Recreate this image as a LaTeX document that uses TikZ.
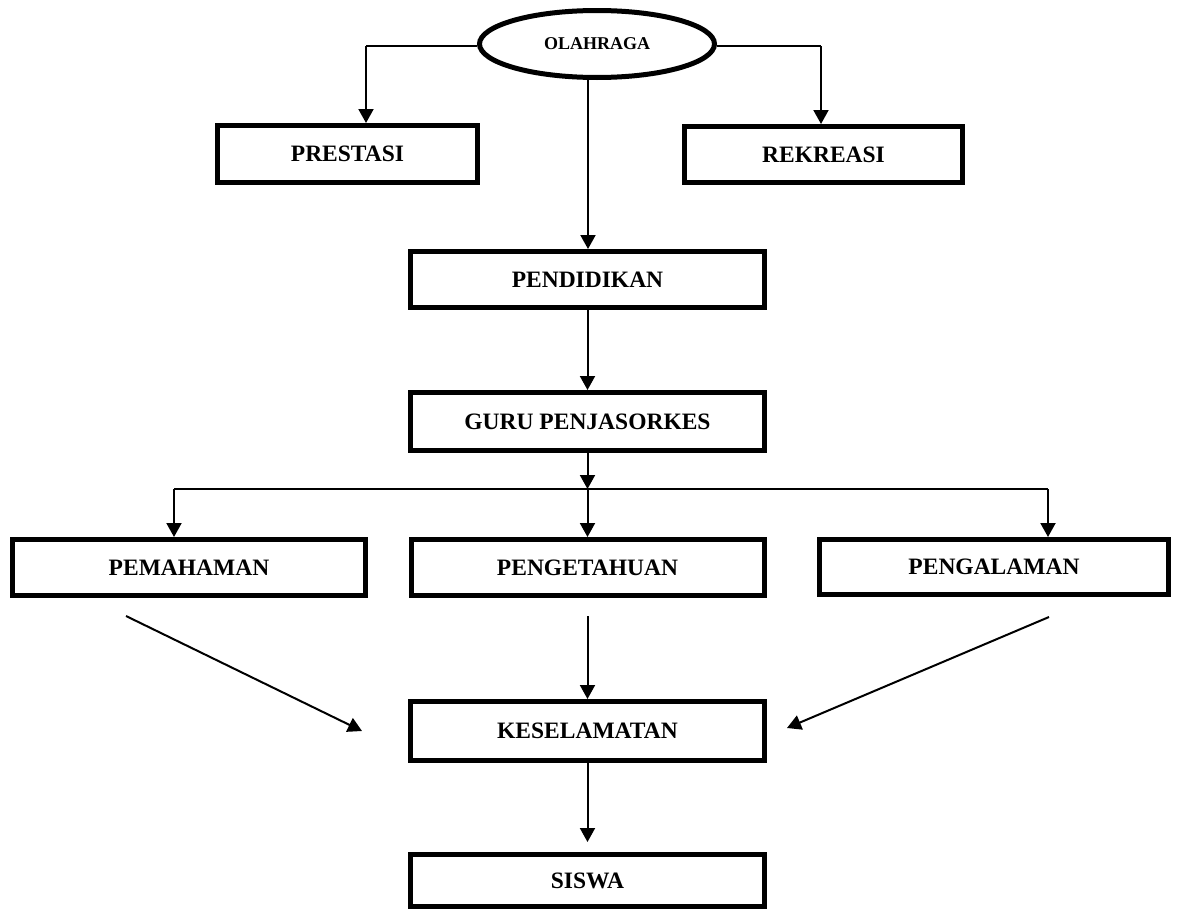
\documentclass[tikz,border=0pt]{standalone}
\usepackage{fontspec}
\setmainfont{Liberation Serif}
\usetikzlibrary{shapes.geometric,arrows.meta}
\begin{document}
\begin{tikzpicture}[x=1pt,y=-1pt,
  box/.style={draw,line width=5pt,inner sep=0pt,font=\fontsize{23.5}{28}\selectfont\bfseries},
  conn/.style={line width=2pt},
  thin/.style={line width=1.5pt},
  arr/.style={line width=2pt,-{Triangle[length=14pt,width=15pt]}}]
\useasboundingbox (0,0) rectangle (1179,910);
\node[draw,ellipse,line width=5pt,inner sep=0pt,minimum width=235pt,minimum height=67pt,font=\fontsize{18}{22}\selectfont\bfseries] (ol) at (597,44) {OLAHRAGA};
\node[box,minimum width=260pt,minimum height=57pt] (pres) at (347.5,154) {PRESTASI};
\node[box,minimum width=278pt,minimum height=56pt] (rek) at (823.5,154.5) {REKREASI};
\node[box,minimum width=354pt,minimum height=56pt] (pend) at (587.5,279.5) {PENDIDIKAN};
\node[box,minimum width=354pt,minimum height=58pt] (guru) at (587.5,421.5) {GURU PENJASORKES};
\node[box,minimum width=353pt,minimum height=56pt] (pema) at (189,567.5) {PEMAHAMAN};
\node[box,minimum width=353pt,minimum height=56pt] (peng) at (587.5,567.5) {PENGETAHUAN};
\node[box,minimum width=349pt,minimum height=55pt] (pengal) at (994,567) {PENGALAMAN};
\node[box,minimum width=354pt,minimum height=59pt] (kes) at (587.5,731) {KESELAMATAN};
\node[box,minimum width=354pt,minimum height=52pt] (sis) at (587.5,880.5) {SISWA};
% top branches
\coordinate (pl) at (366,46);
\coordinate (pr) at (821,46);
\coordinate (oc) at (588,79);
\draw[thin] (ol.west |- pl) -- (pl);
\draw[arr] (pl) -- (pl |- pres.north);
\draw[thin] (ol.east |- pr) -- (pr);
\draw[arr] (pr) -- (pr |- rek.north);
\draw[arr] (oc) -- (oc |- pend.north);
\draw[arr] (pend.south) -- (guru.north);
% junction
\coordinate (jc) at (587.5,489);
\coordinate (jl) at (174,489);
\coordinate (jr) at (1048,489);
\draw[arr] (guru.south) -- (jc);
\draw[thin] (jl) -- (jr);
\draw[arr] (jc) -- (peng.north);
\draw[arr] (jl) -- (jl |- pema.north);
\draw[arr] (jr) -- (jr |- pengal.north);
% to keselamatan
\coordinate (dl) at (126,616);
\coordinate (tl) at (362,731);
\coordinate (dr) at (1049,617);
\coordinate (tr) at (787,728);
\coordinate (dm) at (587.5,616);
\draw[arr] (dl) -- (tl);
\draw[arr] (dr) -- (tr);
\draw[arr] (dm) -- (kes.north);
\draw[arr] (kes.south) -- ([yshift=10pt]sis.north);
\end{tikzpicture}
\end{document}
